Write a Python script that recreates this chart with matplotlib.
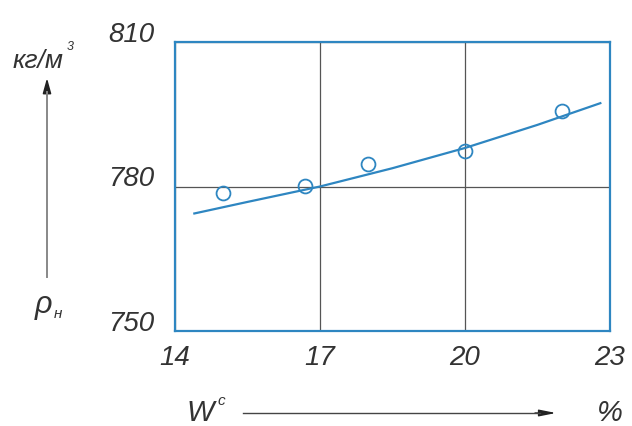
import matplotlib
matplotlib.use("Agg")
import matplotlib.pyplot as plt

# moisture content W^c, %  vs  bulk density rho_n, kg/m3
w_points = [15.0, 16.7, 18.0, 20.0, 22.0]
rho_points = [778.6, 780.1, 784.6, 787.4, 795.7]

# smoothed trend line
w_curve = [14.4, 15.5, 17.0, 18.5, 20.0, 21.5, 22.8]
rho_curve = [774.4, 776.8, 780.0, 783.8, 788.0, 792.8, 797.3]

x_ticks = [14, 17, 20, 23]
y_ticks = [750, 780, 810]

W, H = 632, 426
BLUE = "#2e86c1"
INK = "#333333"
FONT = ["Liberation Sans Narrow", "Liberation Sans", "DejaVu Sans"]


def fx(px):
    return px / W


def fy(py):
    return 1 - py / H


plt.rcParams["font.family"] = FONT
plt.rcParams["font.style"] = "italic"

fig = plt.figure(figsize=(W / 100, H / 100), dpi=100)
ax = fig.add_axes([fx(175), fy(331), fx(610) - fx(175), fy(42) - fy(331)])

ax.plot(w_curve, rho_curve, color=BLUE, lw=1.6, zorder=3)
ax.plot(w_points, rho_points, "o", ms=10, mfc="none", mec=BLUE, mew=1.3, zorder=4)

ax.set_xlim(x_ticks[0], x_ticks[-1])
ax.set_ylim(y_ticks[0], y_ticks[-1])
ax.set_xticks(x_ticks)
ax.set_yticks(y_ticks)
ax.grid(True, color="#555555", lw=0.9)
ax.tick_params(length=0, labelsize=20, labelcolor=INK)
ax.tick_params(axis="x", pad=10)
ax.tick_params(axis="y", pad=15)
for lab in ax.get_yticklabels():
    lab.set_verticalalignment("baseline")
for s in ax.spines.values():
    s.set_color(BLUE)
    s.set_linewidth(1.6)

# y-axis caption with arrow
fig.text(fx(13), fy(68), "кг/м", fontsize=19, color=INK, ha="left", va="baseline")
fig.text(fx(67), fy(50), "3", fontsize=9, color=INK, ha="left", va="baseline")
fig.text(fx(35), fy(313), "ρ", fontsize=22, color=INK, ha="left", va="baseline")
fig.text(fx(54), fy(318), "н", fontsize=11, color=INK, ha="left", va="baseline")
fig.add_artist(plt.Line2D([fx(47), fx(47)], [fy(277), fy(92)], color="#888888", lw=1.4))
ax.annotate("", xy=(fx(47), fy(78)), xytext=(fx(47), fy(95)), xycoords="figure fraction",
            arrowprops=dict(arrowstyle="-|>,head_length=0.9,head_width=0.25",
                            color="#222222", lw=1.2, shrinkA=0, shrinkB=0),
            annotation_clip=False)

# x-axis caption with arrow
fig.text(fx(186), fy(421), "W", fontsize=21, color=INK, ha="left", va="baseline")
fig.text(fx(217), fy(405), "c", fontsize=11, color=INK, ha="left", va="baseline")
fig.text(fx(597), fy(421), "%", fontsize=21, color=INK, ha="left", va="baseline")
fig.add_artist(plt.Line2D([fx(243), fx(540)], [fy(413), fy(413)], color="#444444", lw=1.0))
ax.annotate("", xy=(fx(556), fy(413)), xytext=(fx(535), fy(413)), xycoords="figure fraction",
            arrowprops=dict(arrowstyle="-|>,head_length=1.0,head_width=0.2",
                            color="#222222", lw=1.0, shrinkA=0, shrinkB=0),
            annotation_clip=False)

fig.savefig("out.png", dpi=100)
